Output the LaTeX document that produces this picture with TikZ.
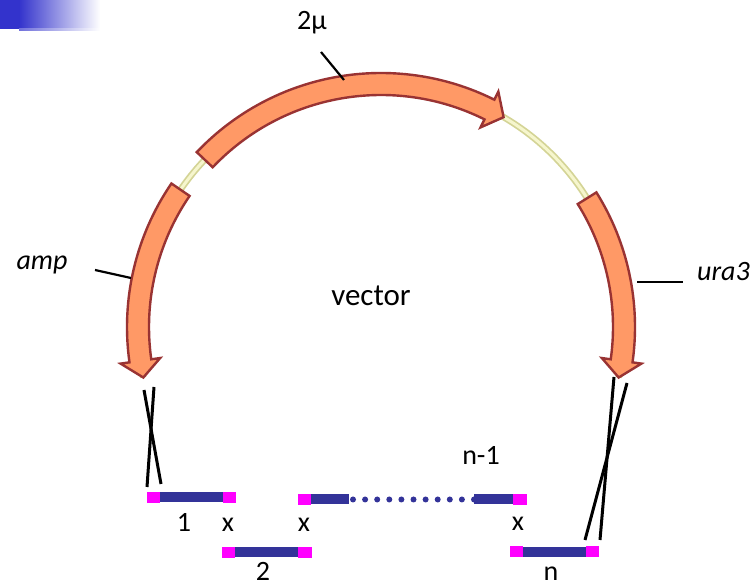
\documentclass[tikz,border=0pt]{standalone}
\usepackage{fontspec}
\setmainfont{Carlito}
\definecolor{arrowfill}{RGB}{255,153,102}
\definecolor{arrowedge}{RGB}{153,51,51}
\definecolor{yelout}{RGB}{212,212,150}
\definecolor{yelin}{RGB}{246,246,205}
\definecolor{fragblue}{RGB}{51,51,153}
\definecolor{fragend}{RGB}{255,0,255}
\definecolor{topblue}{RGB}{51,51,204}
\newcommand{\curvarrow}[3]{%
  \draw[arrowbody] (#1:254) arc[start angle=#1, end angle=#2, radius=254]
    -- (#2:263) -- (#3:243) -- (#2:223) -- (#2:232)
    arc[start angle=#2, end angle=#1, radius=232] -- cycle;}
\begin{document}
\begin{tikzpicture}[x=1pt,y=1pt,
  arrowbody/.style={fill=arrowfill, draw=arrowedge, line width=2.4pt, line join=miter},
  lbl/.style={font=\fontsize{28}{30}\selectfont, inner sep=0pt, anchor=base},
  ilbl/.style={lbl, font=\fontsize{28}{30}\selectfont\itshape},
  leader/.style={draw=black, line width=2.2pt},
  cross/.style={draw=black, line width=3pt},
  bluebar/.style={fill=fragblue},
  endcap/.style={fill=fragend}]
\useasboundingbox (0,0) rectangle (755,588);
% top-left gradient
\fill[topblue] (0,559) rectangle (19.5,588);
\shade[left color=topblue, right color=white] (19,559) rectangle (100,588);
\shade[left color=topblue!70, right color=white] (19,557.5) rectangle (100,559);
% plasmid arc
\begin{scope}[shift={(381,261)}]
  \draw[yelout, line width=6.5pt] (-12:243) arc[start angle=-12, end angle=192, radius=243];
  \draw[yelin, line width=3pt] (-12:243) arc[start angle=-12, end angle=192, radius=243];
  \curvarrow{145.6}{188}{192}
  \curvarrow{136.5}{63.5}{59.7}
  \curvarrow{32}{-8}{-12}
\end{scope}
% labels and leaders
\node[lbl] (mu) at (312,558) {2µ};
\coordinate (muA) at (321,536);
\coordinate (muB) at (344,508);
\draw[leader] (muA) -- (muB);
\node[ilbl] (amp) at (42,318) {amp};
\coordinate (ampA) at (95,318);
\coordinate (ampB) at (131,310);
\draw[leader] (ampA) -- (ampB);
\node[ilbl, anchor=base west] (ura) at (697,307) {ura3};
\coordinate (uraA) at (637,306);
\coordinate (uraB) at (683,306);
\draw[leader] (uraA) -- (uraB);
\node[lbl, font=\fontsize{31}{33}\selectfont] (vec) at (371,282) {vector};
% crossing lines
\coordinate (l1a) at (144,198); \coordinate (l1b) at (161,104);
\coordinate (l2a) at (154,201); \coordinate (l2b) at (147,101);
\draw[cross] (l1a) -- (l1b);
\draw[cross] (l2a) -- (l2b);
\coordinate (r1a) at (614,211); \coordinate (r1b) at (600,48);
\coordinate (r2a) at (627,205); \coordinate (r2b) at (585,48);
\draw[cross] (r1a) -- (r1b);
\draw[cross] (r2a) -- (r2b);
% fragment 1
\fill[bluebar] (160,85.5) rectangle (223,95.5);
\fill[endcap] (147,85) rectangle (160,96);
\fill[endcap] (223,85) rectangle (236,96);
% fragment 2
\fill[bluebar] (235,30.5) rectangle (298,40.5);
\fill[endcap] (222,30) rectangle (235,41);
\fill[endcap] (298,30) rectangle (312,41);
% fragments 3 .. n-1
\fill[bluebar] (311,83.5) rectangle (349,93.5);
\foreach \i in {0,...,10} \fill[fragblue] ({353+12.1*\i},88.5) circle (3);
\fill[bluebar] (474,83.5) rectangle (513,93.5);
\fill[endcap] (298,83) rectangle (311,94);
\fill[endcap] (513,83) rectangle (527,94);
% fragment n
\fill[bluebar] (523,31) rectangle (586,41);
\fill[endcap] (510,30.5) rectangle (523,41.5);
\fill[endcap] (586,30.5) rectangle (599,41.5);
% fragment labels
\node[lbl] (one) at (184,56) {1};
\node[lbl] (x1) at (228,56) {x};
\node[lbl] (x2) at (304,56) {x};
\node[lbl] (nm1) at (481,123) {n-1};
\node[lbl] (x3) at (518,57) {x};
\node[lbl] (two) at (263,7) {2};
\node[lbl] (en) at (551,7) {n};
\end{tikzpicture}
\end{document}
